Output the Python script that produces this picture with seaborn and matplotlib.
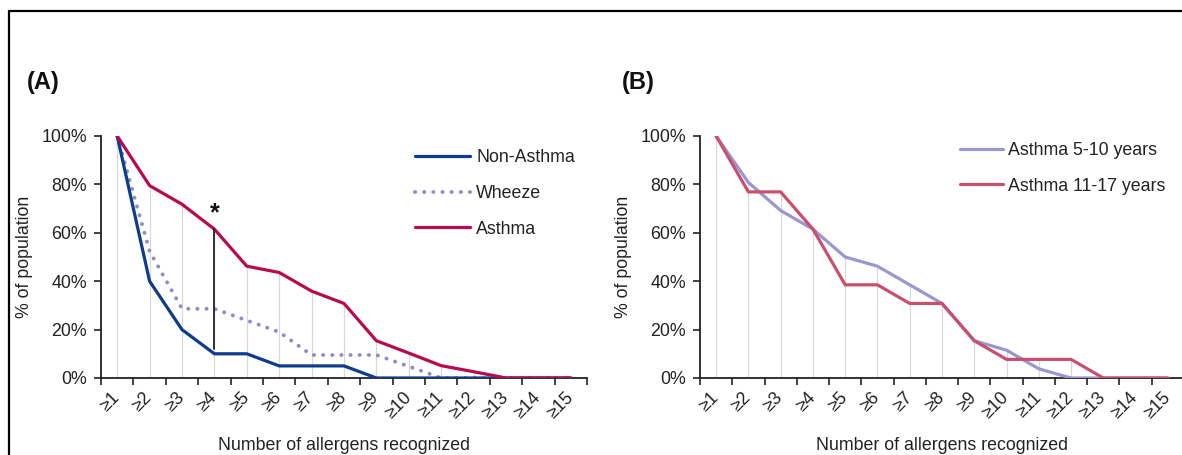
import numpy as np
import pandas as pd
import matplotlib
matplotlib.use("Agg")
import matplotlib.pyplot as plt
from matplotlib.lines import Line2D
import seaborn as sns

# Cumulative share of children recognising at least N allergens
categories = ["≥1", "≥2", "≥3", "≥4", "≥5", "≥6", "≥7", "≥8",
              "≥9", "≥10", "≥11", "≥12", "≥13", "≥14", "≥15"]

non_asthma = [100, 40, 20, 10, 10, 5, 5, 5, 0, 0, 0, 0, 0, 0, 0]
wheeze = [100, 52.4, 28.6, 28.6, 23.8, 19.0, 9.5, 9.5, 9.5, 4.8, 0, 0, 0, 0, 0]
asthma = [100, 79.5, 71.8, 61.5, 46.2, 43.6, 35.9, 30.8, 15.4, 10.3, 5.1, 2.6, 0, 0, 0]

asthma_5_10 = [100, 80.8, 69.2, 61.5, 50.0, 46.2, 38.5, 30.8, 15.4, 11.5, 3.8, 0, 0, 0, 0]
asthma_11_17 = [100, 76.9, 76.9, 61.5, 38.5, 38.5, 30.8, 30.8, 15.4, 7.7, 7.7, 7.7, 0, 0, 0]

y_ticks = [0, 20, 40, 60, 80, 100]
y_tick_labels = ["0%", "20%", "40%", "60%", "80%", "100%"]

sns.set_theme(style="white")
plt.rcParams["font.family"] = ["Liberation Sans", "DejaVu Sans"]

W, H = 1182, 455
fig = plt.figure(figsize=(W / 100, H / 100), dpi=100)

pos = np.arange(len(categories))
FS = 12.8
TXT = "#222222"


def frame_axes(ax, series):
    # drop lines from the highest series down to the axis
    top = np.max(np.array(series), axis=0)
    for x, t in zip(pos, top):
        if t > 0:
            ax.plot([x, x], [0, t], color="#d9d9d9", lw=0.9, zorder=1)
    ax.set_xlim(-0.5, len(categories) - 0.5)
    ax.set_ylim(0, 100)
    ax.set_xticks(np.arange(-0.5, len(categories), 1.0))
    ax.set_xticklabels([])
    ax.set_xticks(pos, minor=True)
    ax.set_xticklabels(categories, minor=True, rotation=45, ha="right",
                       va="center", rotation_mode="anchor", fontsize=FS,
                       color=TXT)
    ax.tick_params(axis="x", which="major", direction="out", length=5,
                   width=1.2, color=TXT, bottom=True)
    ax.tick_params(axis="x", which="minor", length=0, pad=12, bottom=True)
    ax.set_yticks(y_ticks)
    ax.set_yticklabels(y_tick_labels, fontsize=FS, color=TXT)
    ax.tick_params(axis="y", direction="out", length=5, width=1.2,
                   color=TXT, left=True, pad=5)
    for s in ("top", "right"):
        ax.spines[s].set_visible(False)
    for s in ("left", "bottom"):
        ax.spines[s].set_color(TXT)
        ax.spines[s].set_linewidth(1.3)
    ax.set_xlabel("Number of allergens recognized", fontsize=FS,
                  color=TXT, labelpad=11)
    ax.set_ylabel("% of population", fontsize=FS, color=TXT, labelpad=6)
    ax.grid(False)


bottom = 1 - 378 / H
height = (378 - 136) / H

# ---- Panel A ----
axA = fig.add_axes([101 / W, bottom, 486 / W, height])
frame_axes(axA, [non_asthma, wheeze, asthma])

col_non = "#0d3b8e"
col_whz = "#8f8ccb"
col_ast = "#b80a4e"
dots = (0, (0.05, 2.3))

sns.lineplot(x=pos, y=non_asthma, ax=axA, color=col_non, lw=2.3, zorder=3)
sns.lineplot(x=pos, y=wheeze, ax=axA, color=col_whz, lw=2.8, zorder=2,
             linestyle=dots, dash_capstyle="round")
sns.lineplot(x=pos, y=asthma, ax=axA, color=col_ast, lw=2.3, zorder=4)

# significance marker at >=4
axA.plot([3, 3], [non_asthma[3] + 2, asthma[3]], color=TXT, lw=1.3,
         zorder=5)
axA.text(3, asthma[3] + 1.5, "*", ha="center", va="bottom", fontsize=18,
         fontweight="bold", color="#111111")

handlesA = [
    Line2D([], [], color=col_non, lw=2.3),
    Line2D([], [], color=col_whz, lw=2.8, linestyle=dots,
           dash_capstyle="round"),
    Line2D([], [], color=col_ast, lw=2.3),
]
axA.legend(handlesA, ["Non-Asthma", "Wheeze", "Asthma"], loc="upper left",
           bbox_to_anchor=(0.646, 0.945), frameon=False, fontsize=FS,
           handlelength=3.1, handletextpad=0.35, labelspacing=1.05,
           borderpad=0, borderaxespad=0, labelcolor=TXT)

# ---- Panel B ----
axB = fig.add_axes([700 / W, bottom, 484 / W, height])
frame_axes(axB, [asthma_5_10, asthma_11_17])

col_young = "#9a97d0"
col_old = "#c9506c"
sns.lineplot(x=pos, y=asthma_5_10, ax=axB, color=col_young, lw=2.3, zorder=3)
sns.lineplot(x=pos, y=asthma_11_17, ax=axB, color=col_old, lw=2.3, zorder=4)

handlesB = [Line2D([], [], color=col_young, lw=2.3),
            Line2D([], [], color=col_old, lw=2.3)]
axB.legend(handlesB, ["Asthma 5-10 years", "Asthma 11-17 years"],
           loc="upper left", bbox_to_anchor=(0.537, 0.975), frameon=False,
           fontsize=FS, handlelength=2.45, handletextpad=0.28,
           labelspacing=1.05, borderpad=0, borderaxespad=0, labelcolor=TXT)

# panel letters
fig.text(27 / W, 1 - 82 / H, "(A)", fontsize=17, fontweight="bold",
         va="center", ha="left", color="#111111")
fig.text(622 / W, 1 - 82 / H, "(B)", fontsize=17, fontweight="bold",
         va="center", ha="left", color="#111111")

# outer frame (top and left edges)
fig.add_artist(Line2D([8.5 / W, 1.0], [1 - 10.5 / H, 1 - 10.5 / H],
                      transform=fig.transFigure, color="black", lw=1.6))
fig.add_artist(Line2D([8.5 / W, 8.5 / W], [0, 1 - 10.5 / H],
                      transform=fig.transFigure, color="black", lw=1.6))

fig.savefig("out.png", dpi=100, facecolor="white")
